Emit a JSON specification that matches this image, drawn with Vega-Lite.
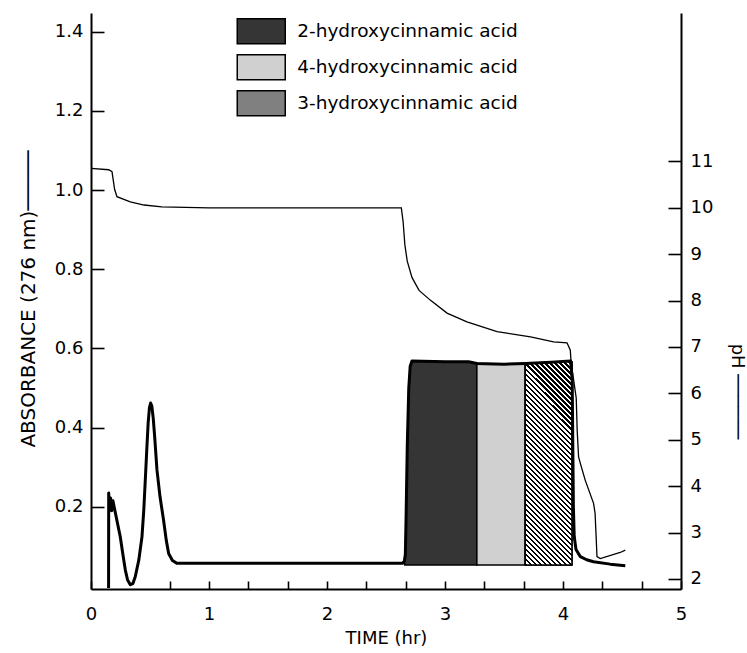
{
  "$schema": "https://vega.github.io/schema/vega-lite/v6.json",
  "width": 590,
  "height": 576,
  "autosize": "none",
  "padding": {"left": 91, "top": 13, "right": 66, "bottom": 64},
  "background": "white",
  "config": {
    "view": {"stroke": null},
    "font": "DejaVu Sans",
    "axis": {
      "grid": false,
      "domainColor": "black",
      "domainWidth": 2,
      "tickColor": "black",
      "tickWidth": 1.6,
      "labelColor": "black",
      "labelFontSize": 18,
      "titleColor": "black",
      "titleFontSize": 18,
      "titleFontWeight": "normal"
    }
  },
  "datasets": {
    "absorbance": [
      {"t": 0.149, "a": -0.005}, {"t": 0.150, "a": 0.235}, {"t": 0.157, "a": 0.19}, {"t": 0.166, "a": 0.222},
      {"t": 0.176, "a": 0.19}, {"t": 0.186, "a": 0.215}, {"t": 0.196, "a": 0.2}, {"t": 0.22, "a": 0.165},
      {"t": 0.248, "a": 0.124}, {"t": 0.27, "a": 0.08}, {"t": 0.291, "a": 0.04}, {"t": 0.31, "a": 0.015},
      {"t": 0.333, "a": 0.003}, {"t": 0.355, "a": 0.006}, {"t": 0.375, "a": 0.023}, {"t": 0.405, "a": 0.065},
      {"t": 0.432, "a": 0.124}, {"t": 0.447, "a": 0.19}, {"t": 0.46, "a": 0.267}, {"t": 0.472, "a": 0.34},
      {"t": 0.484, "a": 0.41}, {"t": 0.495, "a": 0.45}, {"t": 0.505, "a": 0.462}, {"t": 0.515, "a": 0.455},
      {"t": 0.527, "a": 0.425}, {"t": 0.54, "a": 0.375}, {"t": 0.559, "a": 0.293}, {"t": 0.585, "a": 0.225},
      {"t": 0.615, "a": 0.166}, {"t": 0.638, "a": 0.115}, {"t": 0.658, "a": 0.082}, {"t": 0.69, "a": 0.064},
      {"t": 0.729, "a": 0.057}, {"t": 1.5, "a": 0.057}, {"t": 2.64, "a": 0.057}, {"t": 2.655, "a": 0.062},
      {"t": 2.664, "a": 0.08}, {"t": 2.67, "a": 0.17}, {"t": 2.68, "a": 0.35}, {"t": 2.693, "a": 0.5},
      {"t": 2.705, "a": 0.555}, {"t": 2.72, "a": 0.568}, {"t": 3.0, "a": 0.566}, {"t": 3.2, "a": 0.566},
      {"t": 3.27, "a": 0.562}, {"t": 3.5, "a": 0.56}, {"t": 3.68, "a": 0.562}, {"t": 3.9, "a": 0.565},
      {"t": 4.065, "a": 0.568}, {"t": 4.078, "a": 0.52}, {"t": 4.083, "a": 0.36}, {"t": 4.088, "a": 0.2},
      {"t": 4.095, "a": 0.125}, {"t": 4.11, "a": 0.092}, {"t": 4.147, "a": 0.074}, {"t": 4.2, "a": 0.066},
      {"t": 4.259, "a": 0.061}, {"t": 4.4, "a": 0.055}, {"t": 4.528, "a": 0.051}
    ],
    "ph": [
      {"t": 0.0, "p": 10.85}, {"t": 0.15, "p": 10.82}, {"t": 0.178, "p": 10.78}, {"t": 0.2, "p": 10.4},
      {"t": 0.22, "p": 10.24}, {"t": 0.333, "p": 10.13}, {"t": 0.45, "p": 10.06}, {"t": 0.6, "p": 10.02},
      {"t": 1.0, "p": 10.0}, {"t": 2.0, "p": 10.0}, {"t": 2.63, "p": 10.0}, {"t": 2.645, "p": 9.7},
      {"t": 2.66, "p": 9.2}, {"t": 2.68, "p": 8.85}, {"t": 2.72, "p": 8.5}, {"t": 2.78, "p": 8.22},
      {"t": 2.875, "p": 8.01}, {"t": 3.017, "p": 7.73}, {"t": 3.186, "p": 7.54}, {"t": 3.441, "p": 7.33},
      {"t": 3.725, "p": 7.22}, {"t": 3.92, "p": 7.11}, {"t": 4.034, "p": 7.09}, {"t": 4.062, "p": 6.93},
      {"t": 4.068, "p": 6.68}, {"t": 4.09, "p": 6.29}, {"t": 4.112, "p": 5.9}, {"t": 4.116, "p": 5.57},
      {"t": 4.12, "p": 5.21}, {"t": 4.132, "p": 4.63}, {"t": 4.147, "p": 4.49}, {"t": 4.188, "p": 4.13},
      {"t": 4.259, "p": 3.63}, {"t": 4.272, "p": 3.41}, {"t": 4.282, "p": 2.84}, {"t": 4.288, "p": 2.48},
      {"t": 4.316, "p": 2.44}, {"t": 4.485, "p": 2.57}, {"t": 4.528, "p": 2.62}
    ],
    "bands": [
      {"acid": "2-hydroxycinnamic acid", "t": 2.658, "a": 0.06},
      {"acid": "2-hydroxycinnamic acid", "t": 2.664, "a": 0.08},
      {"acid": "2-hydroxycinnamic acid", "t": 2.67, "a": 0.17},
      {"acid": "2-hydroxycinnamic acid", "t": 2.68, "a": 0.35},
      {"acid": "2-hydroxycinnamic acid", "t": 2.693, "a": 0.5},
      {"acid": "2-hydroxycinnamic acid", "t": 2.705, "a": 0.555},
      {"acid": "2-hydroxycinnamic acid", "t": 2.72, "a": 0.568},
      {"acid": "2-hydroxycinnamic acid", "t": 3.0, "a": 0.566},
      {"acid": "2-hydroxycinnamic acid", "t": 3.2, "a": 0.566},
      {"acid": "2-hydroxycinnamic acid", "t": 3.27, "a": 0.562},
      {"acid": "4-hydroxycinnamic acid", "t": 3.27, "a": 0.562},
      {"acid": "4-hydroxycinnamic acid", "t": 3.5, "a": 0.56},
      {"acid": "4-hydroxycinnamic acid", "t": 3.68, "a": 0.562},
      {"acid": "3-hydroxycinnamic acid", "t": 3.68, "a": 0.562},
      {"acid": "3-hydroxycinnamic acid", "t": 3.9, "a": 0.565},
      {"acid": "3-hydroxycinnamic acid", "t": 4.065, "a": 0.568},
      {"acid": "3-hydroxycinnamic acid", "t": 4.076, "a": 0.566}
    ]
  },
  "layer": [
    {
      "layer": [
        {
          "data": {"name": "bands"},
          "mark": {"type": "area", "stroke": "black", "strokeWidth": 1.5, "opacity": 1, "fillOpacity": 1},
          "encoding": {
            "x": {
              "field": "t", "type": "quantitative",
              "scale": {"domain": [0, 5], "nice": false, "zero": false},
              "axis": {
                "values": [0, 0.6667, 1, 1.3333, 1.6667, 2, 2.3333, 2.6667, 3, 3.3333, 3.6667, 4, 4.3333, 4.6667, 5],
                "labelExpr": "abs(datum.value - round(datum.value)) < 0.001 ? format(datum.value, 'd') : ''",
                "tickSize": -8,
                "labelPadding": 24,
                "labelFlush": false,
                "labelOverlap": false,
                "title": "TIME (hr)",
                "titlePadding": 6
              }
            },
            "y": {
              "field": "a", "type": "quantitative", "stack": null,
              "scale": {"domain": [-0.0078, 1.4472], "nice": false, "zero": false},
              "axis": {
                "orient": "left",
                "values": [0.2, 0.4, 0.6, 0.8, 1.0, 1.2, 1.4],
                "format": ".1f",
                "tickSize": -13,
                "labelPadding": 21,
                "title": "ABSORBANCE (276 nm)─────",
                "titleFontSize": 20,
                "titleAngle": -90,
                "titleX": -63,
                "titleY": 285.5,
                "titleAlign": "center",
                "titleBaseline": "middle"
              }
            },
            "y2": {"datum": 0.053},
            "color": {
              "field": "acid", "type": "nominal",
              "scale": {
                "domain": ["2-hydroxycinnamic acid", "4-hydroxycinnamic acid", "3-hydroxycinnamic acid"],
                "range": ["#353535", "#d0d0d0", "#808080"]
              },
              "legend": {
                "orient": "none",
                "legendX": 161,
                "legendY": 9,
                "title": null,
                "padding": 0,
                "symbolType": "M-12,-6.25H12V6.25H-12Z",
                "symbolSize": 16,
                "symbolStrokeColor": "black",
                "symbolStrokeWidth": 1.5,
                "symbolOpacity": 1,
                "labelFontSize": 18.5,
                "labelColor": "black",
                "labelOffset": 26.75,
                "labelLimit": 400,
                "rowPadding": 4
              }
            }
          }
        },
        {
          "data": {"name": "bands"},
          "transform": [{"filter": "datum.acid === '3-hydroxycinnamic acid'"}],
          "mark": {
            "type": "area",
            "stroke": "black",
            "strokeWidth": 1.5,
            "fill": {
              "gradient": "linear",
              "x1": 0, "y1": 1, "x2": 0.2673, "y2": -0.1677,
              "stops": [
                {"offset": 0, "color": "black"}, {"offset": 0.009, "color": "black"}, {"offset": 0.009, "color": "white"}, {"offset": 0.02, "color": "white"},
                {"offset": 0.02, "color": "black"}, {"offset": 0.029, "color": "black"}, {"offset": 0.029, "color": "white"}, {"offset": 0.04, "color": "white"},
                {"offset": 0.04, "color": "black"}, {"offset": 0.049, "color": "black"}, {"offset": 0.049, "color": "white"}, {"offset": 0.06, "color": "white"},
                {"offset": 0.06, "color": "black"}, {"offset": 0.069, "color": "black"}, {"offset": 0.069, "color": "white"}, {"offset": 0.08, "color": "white"},
                {"offset": 0.08, "color": "black"}, {"offset": 0.089, "color": "black"}, {"offset": 0.089, "color": "white"}, {"offset": 0.1, "color": "white"},
                {"offset": 0.1, "color": "black"}, {"offset": 0.109, "color": "black"}, {"offset": 0.109, "color": "white"}, {"offset": 0.12, "color": "white"},
                {"offset": 0.12, "color": "black"}, {"offset": 0.129, "color": "black"}, {"offset": 0.129, "color": "white"}, {"offset": 0.14, "color": "white"},
                {"offset": 0.14, "color": "black"}, {"offset": 0.149, "color": "black"}, {"offset": 0.149, "color": "white"}, {"offset": 0.16, "color": "white"},
                {"offset": 0.16, "color": "black"}, {"offset": 0.169, "color": "black"}, {"offset": 0.169, "color": "white"}, {"offset": 0.18, "color": "white"},
                {"offset": 0.18, "color": "black"}, {"offset": 0.189, "color": "black"}, {"offset": 0.189, "color": "white"}, {"offset": 0.2, "color": "white"},
                {"offset": 0.2, "color": "black"}, {"offset": 0.209, "color": "black"}, {"offset": 0.209, "color": "white"}, {"offset": 0.22, "color": "white"},
                {"offset": 0.22, "color": "black"}, {"offset": 0.229, "color": "black"}, {"offset": 0.229, "color": "white"}, {"offset": 0.24, "color": "white"},
                {"offset": 0.24, "color": "black"}, {"offset": 0.249, "color": "black"}, {"offset": 0.249, "color": "white"}, {"offset": 0.26, "color": "white"},
                {"offset": 0.26, "color": "black"}, {"offset": 0.269, "color": "black"}, {"offset": 0.269, "color": "white"}, {"offset": 0.28, "color": "white"},
                {"offset": 0.28, "color": "black"}, {"offset": 0.289, "color": "black"}, {"offset": 0.289, "color": "white"}, {"offset": 0.3, "color": "white"},
                {"offset": 0.3, "color": "black"}, {"offset": 0.309, "color": "black"}, {"offset": 0.309, "color": "white"}, {"offset": 0.32, "color": "white"},
                {"offset": 0.32, "color": "black"}, {"offset": 0.329, "color": "black"}, {"offset": 0.329, "color": "white"}, {"offset": 0.34, "color": "white"},
                {"offset": 0.34, "color": "black"}, {"offset": 0.349, "color": "black"}, {"offset": 0.349, "color": "white"}, {"offset": 0.36, "color": "white"},
                {"offset": 0.36, "color": "black"}, {"offset": 0.369, "color": "black"}, {"offset": 0.369, "color": "white"}, {"offset": 0.38, "color": "white"},
                {"offset": 0.38, "color": "black"}, {"offset": 0.389, "color": "black"}, {"offset": 0.389, "color": "white"}, {"offset": 0.4, "color": "white"},
                {"offset": 0.4, "color": "black"}, {"offset": 0.409, "color": "black"}, {"offset": 0.409, "color": "white"}, {"offset": 0.42, "color": "white"},
                {"offset": 0.42, "color": "black"}, {"offset": 0.429, "color": "black"}, {"offset": 0.429, "color": "white"}, {"offset": 0.44, "color": "white"},
                {"offset": 0.44, "color": "black"}, {"offset": 0.449, "color": "black"}, {"offset": 0.449, "color": "white"}, {"offset": 0.46, "color": "white"},
                {"offset": 0.46, "color": "black"}, {"offset": 0.469, "color": "black"}, {"offset": 0.469, "color": "white"}, {"offset": 0.48, "color": "white"},
                {"offset": 0.48, "color": "black"}, {"offset": 0.489, "color": "black"}, {"offset": 0.489, "color": "white"}, {"offset": 0.5, "color": "white"},
                {"offset": 0.5, "color": "black"}, {"offset": 0.509, "color": "black"}, {"offset": 0.509, "color": "white"}, {"offset": 0.52, "color": "white"},
                {"offset": 0.52, "color": "black"}, {"offset": 0.529, "color": "black"}, {"offset": 0.529, "color": "white"}, {"offset": 0.54, "color": "white"},
                {"offset": 0.54, "color": "black"}, {"offset": 0.549, "color": "black"}, {"offset": 0.549, "color": "white"}, {"offset": 0.56, "color": "white"},
                {"offset": 0.56, "color": "black"}, {"offset": 0.569, "color": "black"}, {"offset": 0.569, "color": "white"}, {"offset": 0.58, "color": "white"},
                {"offset": 0.58, "color": "black"}, {"offset": 0.589, "color": "black"}, {"offset": 0.589, "color": "white"}, {"offset": 0.6, "color": "white"},
                {"offset": 0.6, "color": "black"}, {"offset": 0.609, "color": "black"}, {"offset": 0.609, "color": "white"}, {"offset": 0.62, "color": "white"},
                {"offset": 0.62, "color": "black"}, {"offset": 0.629, "color": "black"}, {"offset": 0.629, "color": "white"}, {"offset": 0.64, "color": "white"},
                {"offset": 0.64, "color": "black"}, {"offset": 0.649, "color": "black"}, {"offset": 0.649, "color": "white"}, {"offset": 0.66, "color": "white"},
                {"offset": 0.66, "color": "black"}, {"offset": 0.669, "color": "black"}, {"offset": 0.669, "color": "white"}, {"offset": 0.68, "color": "white"},
                {"offset": 0.68, "color": "black"}, {"offset": 0.689, "color": "black"}, {"offset": 0.689, "color": "white"}, {"offset": 0.7, "color": "white"},
                {"offset": 0.7, "color": "black"}, {"offset": 0.709, "color": "black"}, {"offset": 0.709, "color": "white"}, {"offset": 0.72, "color": "white"},
                {"offset": 0.72, "color": "black"}, {"offset": 0.729, "color": "black"}, {"offset": 0.729, "color": "white"}, {"offset": 0.74, "color": "white"},
                {"offset": 0.74, "color": "black"}, {"offset": 0.749, "color": "black"}, {"offset": 0.749, "color": "white"}, {"offset": 0.76, "color": "white"},
                {"offset": 0.76, "color": "black"}, {"offset": 0.769, "color": "black"}, {"offset": 0.769, "color": "white"}, {"offset": 0.78, "color": "white"},
                {"offset": 0.78, "color": "black"}, {"offset": 0.789, "color": "black"}, {"offset": 0.789, "color": "white"}, {"offset": 0.8, "color": "white"},
                {"offset": 0.8, "color": "black"}, {"offset": 0.809, "color": "black"}, {"offset": 0.809, "color": "white"}, {"offset": 0.82, "color": "white"},
                {"offset": 0.82, "color": "black"}, {"offset": 0.829, "color": "black"}, {"offset": 0.829, "color": "white"}, {"offset": 0.84, "color": "white"},
                {"offset": 0.84, "color": "black"}, {"offset": 0.849, "color": "black"}, {"offset": 0.849, "color": "white"}, {"offset": 0.86, "color": "white"},
                {"offset": 0.86, "color": "black"}, {"offset": 0.869, "color": "black"}, {"offset": 0.869, "color": "white"}, {"offset": 0.88, "color": "white"},
                {"offset": 0.88, "color": "black"}, {"offset": 0.889, "color": "black"}, {"offset": 0.889, "color": "white"}, {"offset": 0.9, "color": "white"},
                {"offset": 0.9, "color": "black"}, {"offset": 0.909, "color": "black"}, {"offset": 0.909, "color": "white"}, {"offset": 0.92, "color": "white"},
                {"offset": 0.92, "color": "black"}, {"offset": 0.929, "color": "black"}, {"offset": 0.929, "color": "white"}, {"offset": 0.94, "color": "white"},
                {"offset": 0.94, "color": "black"}, {"offset": 0.949, "color": "black"}, {"offset": 0.949, "color": "white"}, {"offset": 0.96, "color": "white"},
                {"offset": 0.96, "color": "black"}, {"offset": 0.969, "color": "black"}, {"offset": 0.969, "color": "white"}, {"offset": 0.98, "color": "white"},
                {"offset": 0.98, "color": "black"}, {"offset": 0.989, "color": "black"}, {"offset": 0.989, "color": "white"}, {"offset": 1, "color": "white"}
              ]
            }
          },
          "encoding": {
            "x": {"field": "t", "type": "quantitative"},
            "y": {"field": "a", "type": "quantitative", "stack": null},
            "y2": {"datum": 0.053}
          }
        },
        {
          "data": {"name": "absorbance"},
          "mark": {"type": "line", "color": "black", "strokeWidth": 3, "strokeJoin": "round"},
          "encoding": {
            "x": {"field": "t", "type": "quantitative"},
            "y": {"field": "a", "type": "quantitative"}
          }
        }
      ]
    },
    {
      "data": {"name": "ph"},
      "mark": {"type": "line", "color": "black", "strokeWidth": 1.3},
      "encoding": {
        "x": {"field": "t", "type": "quantitative"},
        "y": {
          "field": "p", "type": "quantitative",
          "scale": {"domain": [1.783, 14.199], "nice": false, "zero": false},
          "axis": {
            "orient": "right",
            "values": [2, 3, 4, 5, 6, 7, 8, 9, 10, 11],
            "tickSize": -13,
            "labelPadding": 22,
            "title": "pH ──────",
            "titleAngle": 90,
            "titleX": 55,
            "titleY": 378,
            "titleAlign": "center",
            "titleBaseline": "middle"
          }
        }
      }
    }
  ],
  "resolve": {"scale": {"y": "independent"}}
}
